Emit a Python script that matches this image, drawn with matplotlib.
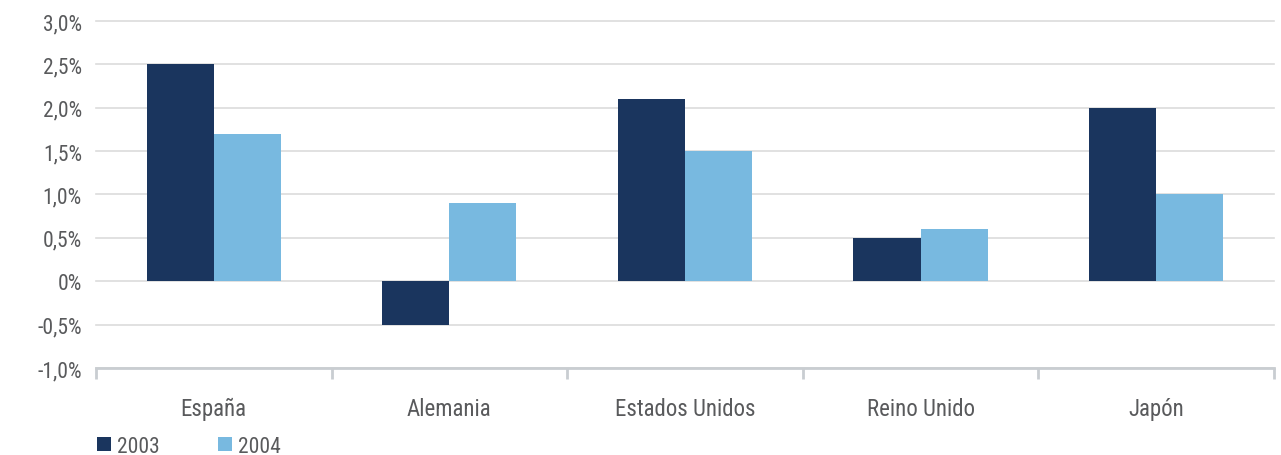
import numpy as np
import matplotlib
matplotlib.use("Agg")
import matplotlib.pyplot as plt
from matplotlib.ticker import FuncFormatter, FixedLocator

categories = ["España", "Alemania", "Estados Unidos", "Reino Unido", "Japón"]
series_names = ["2003", "2004"]
v2003 = [2.5, -0.5, 2.1, 0.5, 2.0]
v2004 = [1.7, 0.9, 1.5, 0.6, 1.0]
yticks = [-1.0, -0.5, 0.0, 0.5, 1.0, 1.5, 2.0, 2.5, 3.0]

DARK = "#1a355e"
LIGHT = "#78b9e0"
TEXT = "#595a5c"
GRID = "#dcdcdc"

plt.rcParams["font.family"] = ["Liberation Sans Narrow", "Roboto Condensed",
                               "Open Sans", "DejaVu Sans"]
plt.rcParams["font.stretch"] = "condensed"

fig = plt.figure(figsize=(12.81, 4.56), dpi=100)
ax = fig.add_axes([0.0749, 0.1908, 0.9196, 0.761])

x = np.arange(len(categories))
w = 0.285
ax.bar(x - w / 2, v2003, w, color=DARK, label=series_names[0], zorder=3)
ax.bar(x + w / 2, v2004, w, color=LIGHT, label=series_names[1], zorder=3)

ax.set_xlim(-0.5, len(categories) - 0.5)
ax.set_ylim(-1.0, 3.0)
ax.set_yticks(yticks)


def fmt(v, _):
    if abs(v) < 1e-9:
        return "0%"
    return f"{v:.1f}%".replace(".", ",")


ax.yaxis.set_major_formatter(FuncFormatter(fmt))
ax.grid(True, axis="y", color=GRID, linewidth=1.2, zorder=0)
for gl in ax.get_ygridlines():
    gl.set_clip_on(False)
for s in ["top", "right", "left"]:
    ax.spines[s].set_visible(False)
ax.spines["bottom"].set_color("#c9cdd1")
ax.spines["bottom"].set_linewidth(2)
ax.tick_params(axis="y", length=0, labelsize=15.5, labelcolor=TEXT, pad=10)

# category labels centred, tick marks at category boundaries
ax.set_xticks(x)
ax.set_xticklabels(categories)
ax.tick_params(axis="x", which="major", length=0, labelsize=16.5, labelcolor=TEXT, pad=21)
ax.xaxis.set_minor_locator(FixedLocator(np.arange(len(categories) + 1) - 0.5))
ax.tick_params(axis="x", which="minor", length=8, width=2, color="#c9cdd1")

leg = ax.legend(loc="upper left", bbox_to_anchor=(0.0005, -0.195), ncol=2, frameon=False,
                fontsize=15.5, handlelength=0.65, handleheight=0.65, handletextpad=0.3,
                columnspacing=2.7, borderaxespad=0, borderpad=0)
for t in leg.get_texts():
    t.set_color(TEXT)

fig.savefig("out.png", dpi=100)
